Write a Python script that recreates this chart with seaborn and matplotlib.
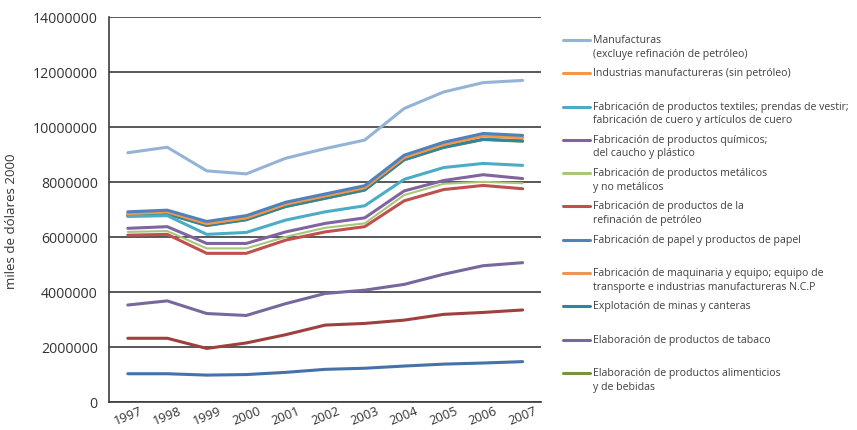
import numpy as np
import pandas as pd
import matplotlib.pyplot as plt
import seaborn as sns
from matplotlib.lines import Line2D

# Datos (miles de dólares 2000)
years = list(range(1997, 2008))

manufacturas = [9.07, 9.27, 8.41, 8.30, 8.87, 9.22, 9.53, 10.68, 11.28, 11.62, 11.70]
industrias = [6.85, 6.92, 6.50, 6.70, 7.20, 7.50, 7.80, 8.90, 9.37, 9.68, 9.62]
textiles = [6.75, 6.78, 6.10, 6.17, 6.62, 6.92, 7.14, 8.10, 8.53, 8.68, 8.61]
quimicos = [6.32, 6.38, 5.77, 5.77, 6.19, 6.50, 6.70, 7.68, 8.06, 8.27, 8.13]
metalicos = [6.19, 6.22, 5.59, 5.59, 6.01, 6.34, 6.50, 7.53, 7.94, 8.01, 7.96]
refinacion = [6.07, 6.10, 5.41, 5.41, 5.89, 6.19, 6.38, 7.32, 7.73, 7.88, 7.76]
papel = [6.92, 6.98, 6.57, 6.78, 7.27, 7.57, 7.87, 8.98, 9.45, 9.77, 9.70]
maquinaria = [6.86, 6.93, 6.49, 6.71, 7.21, 7.51, 7.81, 8.91, 9.38, 9.69, 9.63]
minas = [6.79, 6.85, 6.43, 6.64, 7.12, 7.42, 7.72, 8.82, 9.27, 9.56, 9.50]
tabaco = [3.53, 3.68, 3.22, 3.15, 3.58, 3.95, 4.07, 4.28, 4.65, 4.96, 5.07]
alimenticios = [6.78, 6.84, 6.42, 6.63, 7.11, 7.41, 7.71, 8.81, 9.26, 9.55, 9.49]
# dos series sin entrada en la leyenda
serie_roja = [2.32, 2.32, 1.95, 2.15, 2.45, 2.80, 2.86, 2.98, 3.19, 3.26, 3.35]
serie_azul = [1.03, 1.03, 0.98, 1.00, 1.08, 1.19, 1.23, 1.31, 1.38, 1.42, 1.47]

labels = [
    "Manufacturas\n(excluye refinación de petróleo)",
    "Industrias manufactureras (sin petróleo)",
    "Fabricación de productos textiles; prendas de vestir;\nfabricación de cuero y artículos de cuero",
    "Fabricación de productos químicos;\ndel caucho y plástico",
    "Fabricación de productos metálicos\ny no metálicos",
    "Fabricación de productos de la\nrefinación de petróleo",
    "Fabricación de papel y productos de papel",
    "Fabricación de maquinaria y equipo; equipo de\ntransporte e industrias manufactureras N.C.P",
    "Explotación de minas y canteras",
    "Elaboración de productos de tabaco",
    "Elaboración de productos alimenticios\ny de bebidas",
]
series = [manufacturas, industrias, textiles, quimicos, metalicos, refinacion,
          papel, maquinaria, minas, tabaco, alimenticios]
colors = ["#95b3d7", "#f79646", "#4bacc6", "#8064a2", "#a9c77a", "#c0504d",
          "#4f81bd", "#e8965a", "#31859c", "#76689c", "#77933c"]
widths = [2.2, 2.2, 2.2, 2.2, 1.5, 2.2, 2.2, 2.2, 2.2, 2.2, 2.2]

extra_series = [serie_roja, serie_azul]
extra_colors = ["#9e413e", "#4572a7"]

sns.set_style("white")
plt.rcParams["font.family"] = ["Open Sans", "DejaVu Sans"]

fig = plt.figure(figsize=(8.57, 4.30), dpi=100)
ax = fig.add_axes([0.127, 0.065, 0.504, 0.895])

# orden de dibujo: las de abajo primero
draw_order = [10, 8, 7, 1, 6, 2, 3, 4, 5, 9, 0]
for v, c in zip(extra_series, extra_colors):
    df = pd.DataFrame({"year": years, "value": np.array(v) * 1e6})
    sns.lineplot(data=df, x="year", y="value", color=c, lw=2.2, ax=ax)
for i in draw_order:
    df = pd.DataFrame({"year": years, "value": np.array(series[i]) * 1e6})
    sns.lineplot(data=df, x="year", y="value", color=colors[i], lw=widths[i], ax=ax)

ax.set_xlim(1996.52, 2007.46)
ax.set_ylim(0, 14e6)
ax.set_yticks(np.arange(0, 14e6 + 1, 2e6))
ax.set_yticklabels([str(int(v)) for v in np.arange(0, 14e6 + 1, 2e6)])
ax.set_xticks(years)
ax.set_xticklabels([str(y) for y in years], rotation=22, ha="center")
ax.tick_params(axis="y", length=0, pad=8, labelsize=10.2, labelcolor="#333333")
ax.tick_params(axis="x", length=0, pad=2, labelsize=9.3, labelcolor="#333333")

ax.grid(axis="y", color="#3c3c3c", lw=1.2)
ax.grid(axis="x", visible=False)
ax.set_axisbelow(True)
for s in ["top", "right"]:
    ax.spines[s].set_visible(False)
ax.spines["left"].set_color("#3c3c3c")
ax.spines["left"].set_linewidth(1.2)
ax.spines["bottom"].set_color("#3c3c3c")
ax.spines["bottom"].set_linewidth(1.2)

ax.set_xlabel("")
ax.set_ylabel("miles de dólares 2000", fontsize=9.5, color="#333333")
ax.yaxis.set_label_coords(-0.21, 0.47)

# leyenda a la derecha, entradas espaciadas uniformemente
W, H = 857, 430
for k, (lab, c) in enumerate(zip(labels, colors)):
    ypx = 40 + 33.3 * k
    yf = 1 - ypx / H
    fig.add_artist(Line2D([563 / W, 590 / W], [yf, yf], color=c, lw=2.2))
    fig.text(593 / W, yf + 5 / H, lab, fontsize=7.6, color="#404040",
             va="top", ha="left", linespacing=1.32)

fig.savefig("out.png", dpi=100)
